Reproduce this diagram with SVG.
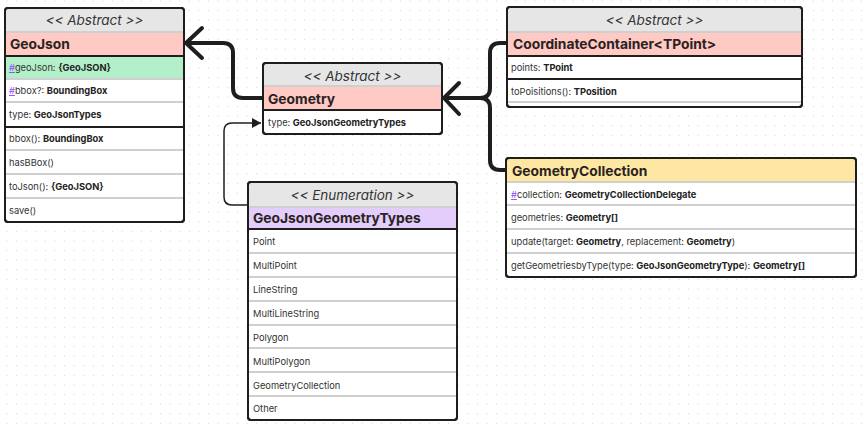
<svg xmlns="http://www.w3.org/2000/svg" width="864" height="429" viewBox="0 0 864 429">
<defs>
<pattern id="dots" x="6.5" y="0.5" width="9.6" height="9.6" patternUnits="userSpaceOnUse">
<rect x="0" y="0" width="1" height="1" fill="#d4d4d4"/>
</pattern>
<marker id="tri" markerWidth="10" markerHeight="10" refX="9" refY="5" orient="auto" markerUnits="userSpaceOnUse">
<path d="M0,0 L9,5 L0,10 Z" fill="#1e1e1e"/>
</marker>
<style>
.box{fill:#fff;stroke:#1e1e1e;stroke-width:2}
.hdr{fill:#e6e6e6}
.pink{fill:#ffc9c4}
.green{fill:#b3f0c9}
.purple{fill:#e3cdfa}
.yellow{fill:#fde7a3}
.sep{stroke:#cfcfcf;stroke-width:2}
.dsep{stroke:#1e1e1e;stroke-width:2}
.st{font-family:Inter,"Noto Sans",sans-serif;font-style:italic;font-size:13.5px;fill:#333;text-anchor:middle}
.tt{font-family:Inter,"Noto Sans",sans-serif;font-weight:bold;font-size:13.8px;fill:#2a2222}
.rt{font-family:Inter,"Noto Sans",sans-serif;font-size:9.3px;fill:#333}
.b{font-weight:bold;fill:#222}
.h{fill:#8a4dff;text-decoration:underline}
.conn{fill:none;stroke:#1e1e1e;stroke-width:4;stroke-linecap:round;stroke-linejoin:round}
.thin{fill:none;stroke:#1e1e1e;stroke-width:1.5}
</style>
</defs>
<rect width="864" height="429" fill="#fff"/>
<rect width="864" height="429" fill="url(#dots)"/>

<g id="connectors">
<path class="conn" d="M263,98 L243,98 Q233,98 233,88 L233,53 Q233,43 223,43 L186,43"/>
<path class="conn" d="M202,28 L186,43 L202,58"/>
<path class="conn" d="M443,98 L480,98 Q490,98 490,88 L490,53 Q490,43 500,43 L508,43"/>
<path class="conn" d="M480,98 Q490,98 490,108 L490,160 Q490,170 500,170 L507,170"/>
<path class="conn" d="M459,83 L444,98 L459,114"/>
<path class="thin" d="M249,205 L232,205 Q224,205 224,197 L224,131 Q224,123 232,123 L261,123" marker-end="url(#tri)"/>
</g>

<g id="GeoJson">
<rect class="box" x="5" y="8" width="179" height="214" rx="3"/>
<rect class="hdr" x="6" y="9" width="177" height="23" rx="2"/>
<rect class="pink" x="6" y="32" width="177" height="24"/>
<line class="sep" x1="6" y1="32" x2="183" y2="32"/>
<rect class="green" x="6" y="56" width="177" height="23"/>
<line class="dsep" x1="5" y1="56" x2="184" y2="56"/>
<line class="sep" x1="6" y1="79" x2="183" y2="79"/>
<line class="sep" x1="6" y1="102" x2="183" y2="102"/>
<line class="dsep" x1="5" y1="127" x2="184" y2="127"/>
<line class="sep" x1="6" y1="150" x2="183" y2="150"/>
<line class="sep" x1="6" y1="174" x2="183" y2="174"/>
<line class="sep" x1="6" y1="198" x2="183" y2="198"/>
<rect x="5" y="8" width="179" height="214" rx="3" fill="none" stroke="#1e1e1e" stroke-width="2"/>
<text class="st" x="94.5" y="25">&lt;&lt; Abstract &gt;&gt;</text>
<text class="tt" x="10" y="49">GeoJson</text>
<text class="rt" x="9" y="71"><tspan class="h">#</tspan>geoJson: <tspan class="b">{GeoJSON}</tspan></text>
<text class="rt" x="9" y="94"><tspan class="h">#</tspan>bbox?: <tspan class="b">BoundingBox</tspan></text>
<text class="rt" x="9" y="118">type: <tspan class="b">GeoJsonTypes</tspan></text>
<text class="rt" x="9" y="142">bbox(): <tspan class="b">BoundingBox</tspan></text>
<text class="rt" x="9" y="166">hasBBox()</text>
<text class="rt" x="9" y="190">toJson(): <tspan class="b">{GeoJSON}</tspan></text>
<text class="rt" x="9" y="214">save()</text>
</g>

<g id="Geometry">
<rect class="box" x="263" y="63" width="179" height="71" rx="3"/>
<rect class="hdr" x="264" y="64" width="177" height="22" rx="2"/>
<rect class="pink" x="264" y="86" width="177" height="24"/>
<line class="sep" x1="264" y1="86" x2="441" y2="86"/>
<line class="dsep" x1="263" y1="110" x2="442" y2="110"/>
<rect x="263" y="63" width="179" height="71" rx="3" fill="none" stroke="#1e1e1e" stroke-width="2"/>
<text class="st" x="352.5" y="81">&lt;&lt; Abstract &gt;&gt;</text>
<text class="tt" x="268" y="104">Geometry</text>
<text class="rt" x="268" y="126">type: <tspan class="b">GeoJsonGeometryTypes</tspan></text>
</g>

<g id="CoordinateContainer">
<rect class="box" x="507" y="7" width="295" height="100" rx="3"/>
<rect class="hdr" x="508" y="8" width="293" height="24" rx="2"/>
<rect class="pink" x="508" y="32" width="293" height="24"/>
<line class="sep" x1="508" y1="32" x2="801" y2="32"/>
<line class="dsep" x1="507" y1="56" x2="802" y2="56"/>
<line class="dsep" x1="507" y1="79" x2="802" y2="79"/>
<line class="sep" x1="508" y1="102" x2="801" y2="102"/>
<rect x="507" y="7" width="295" height="100" rx="3" fill="none" stroke="#1e1e1e" stroke-width="2"/>
<text class="st" x="654.5" y="25">&lt;&lt; Abstract &gt;&gt;</text>
<text class="tt" x="513" y="49">CoordinateContainer&lt;TPoint&gt;</text>
<text class="rt" x="511" y="71">points: <tspan class="b">TPoint</tspan></text>
<text class="rt" x="511" y="95">toPoisitions(): <tspan class="b">TPosition</tspan></text>
</g>

<g id="GeometryCollection">
<rect class="box" x="506" y="158" width="350" height="119" rx="3"/>
<rect class="yellow" x="507" y="159" width="348" height="23" rx="2"/>
<line class="sep" x1="507" y1="182" x2="855" y2="182"/>
<line class="sep" x1="507" y1="205" x2="855" y2="205"/>
<line class="sep" x1="507" y1="229" x2="855" y2="229"/>
<line class="sep" x1="507" y1="253" x2="855" y2="253"/>
<rect x="506" y="158" width="350" height="119" rx="3" fill="none" stroke="#1e1e1e" stroke-width="2"/>
<text class="tt" x="512" y="176">GeometryCollection</text>
<text class="rt" x="511" y="198"><tspan class="h">#</tspan>collection: <tspan class="b">GeometryCollectionDelegate</tspan></text>
<text class="rt" x="511" y="221">geometries: <tspan class="b">Geometry[]</tspan></text>
<text class="rt" x="511" y="245">update(target: <tspan class="b">Geometry</tspan>, replacement: <tspan class="b">Geometry</tspan>)</text>
<text class="rt" x="511" y="269">getGeometriesbyType(type: <tspan class="b">GeoJsonGeometryType</tspan>): <tspan class="b">Geometry[]</tspan></text>
</g>

<g id="GeoJsonGeometryTypes">
<rect class="box" x="248" y="182" width="209" height="238" rx="3"/>
<rect class="hdr" x="249" y="183" width="207" height="24" rx="2"/>
<rect class="purple" x="249" y="207" width="207" height="22"/>
<line class="sep" x1="249" y1="207" x2="456" y2="207"/>
<line class="dsep" x1="248" y1="229" x2="457" y2="229"/>
<line class="sep" x1="249" y1="253" x2="456" y2="253"/>
<line class="sep" x1="249" y1="277" x2="456" y2="277"/>
<line class="sep" x1="249" y1="301" x2="456" y2="301"/>
<line class="sep" x1="249" y1="325" x2="456" y2="325"/>
<line class="sep" x1="249" y1="348" x2="456" y2="348"/>
<line class="sep" x1="249" y1="372" x2="456" y2="372"/>
<line class="sep" x1="249" y1="396" x2="456" y2="396"/>
<rect x="248" y="182" width="209" height="238" rx="3" fill="none" stroke="#1e1e1e" stroke-width="2"/>
<text class="st" x="352.5" y="200">&lt;&lt; Enumeration &gt;&gt;</text>
<text class="tt" x="253" y="223">GeoJsonGeometryTypes</text>
<text class="rt" x="253" y="245">Point</text>
<text class="rt" x="253" y="269">MultiPoint</text>
<text class="rt" x="253" y="293">LineString</text>
<text class="rt" x="253" y="317">MultiLineString</text>
<text class="rt" x="253" y="341">Polygon</text>
<text class="rt" x="253" y="365">MultiPolygon</text>
<text class="rt" x="253" y="389">GeometryCollection</text>
<text class="rt" x="253" y="412">Other</text>
</g>
</svg>
